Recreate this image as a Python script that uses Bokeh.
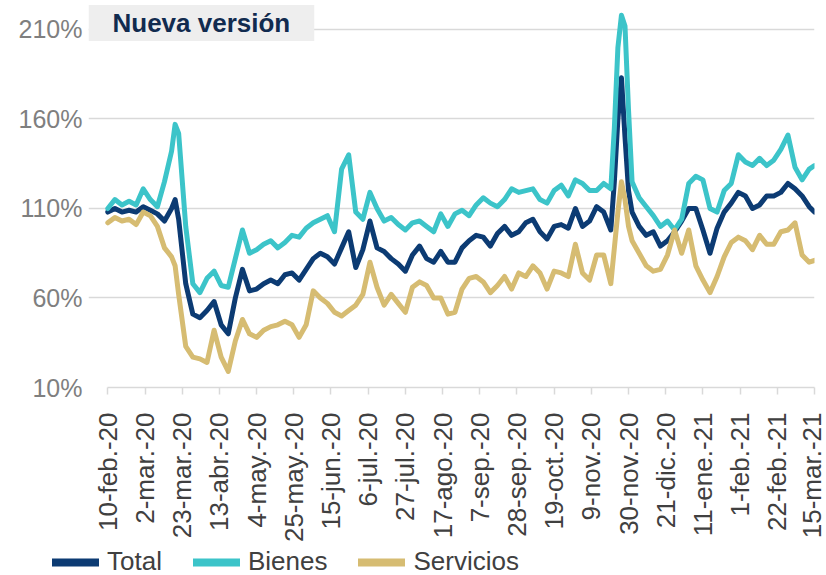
import math
from bokeh.plotting import figure
from bokeh.layouts import column
from bokeh.models import FixedTicker, Range1d, Legend, LegendItem, Label
from bokeh.embed import file_html
from bokeh.resources import INLINE

# days since 10-feb-2020
days = [0, 4, 8, 12, 16, 20, 24, 28, 32, 36, 38, 40, 44, 48, 52, 56, 60, 64, 68, 72,
        76, 80, 84, 88, 92, 96, 100, 104, 108, 112, 116, 120, 124, 128, 132, 136, 140,
        144, 148, 152, 156, 160, 164, 168, 172, 176, 180, 184, 188, 192, 196, 200, 204,
        208, 212, 216, 220, 224, 228, 232, 236, 240, 244, 248, 252, 256, 260, 264, 268,
        272, 276, 280, 284, 286, 288, 290, 292, 294, 296, 300, 304, 308, 312, 316, 320,
        324, 328, 332, 336, 340, 344, 348, 352, 356, 360, 364, 368, 372, 376, 380, 384,
        388, 392, 396, 399]

total = [108, 110, 108, 109, 108, 111, 109, 107, 103, 110, 115, 104, 68, 51, 49, 53, 58, 45, 40, 60,
         76, 64, 65, 68, 70, 68, 73, 74, 70, 76, 82, 85, 83, 79, 88, 97, 77,
         87, 103, 88, 86, 82, 79, 75, 84, 89, 82, 80, 86, 80, 80, 88, 92,
         95, 94, 89, 96, 100, 95, 97, 102, 104, 97, 93, 100, 101, 99, 110, 100,
         103, 111, 108, 98, 125, 160, 183, 150, 120, 108, 100, 95, 97, 89, 92, 97,
         103, 110, 110, 98, 85, 99, 108, 113, 119, 117, 110, 112, 117, 117, 119, 124,
         121, 117, 111, 108]

bienes = [110, 115, 112, 114, 112, 121, 115, 111, 125, 142, 157, 152, 100, 68, 63, 71, 75, 67, 66, 82,
          98, 85, 87, 90, 92, 88, 91, 95, 94, 99, 102, 104, 106, 97, 132, 140, 108,
          104, 119, 110, 103, 105, 101, 98, 102, 103, 100, 97, 107, 100, 107, 109, 106,
          112, 116, 113, 111, 115, 121, 119, 120, 121, 115, 113, 120, 123, 117, 126, 124,
          120, 120, 124, 121, 155, 200, 218, 212, 165, 125, 116, 111, 106, 100, 103, 98,
          104, 124, 128, 126, 110, 108, 120, 124, 140, 136, 134, 138, 134, 137, 143, 151,
          133, 126, 132, 134]

servicios = [102, 105, 103, 104, 101, 108, 106, 100, 88, 83, 78, 62, 33, 27, 26, 24, 42, 27, 19, 36,
             48, 40, 38, 42, 44, 45, 47, 45, 38, 45, 64, 60, 57, 52, 50, 53, 56,
             62, 80, 66, 56, 62, 57, 52, 66, 69, 67, 60, 60, 51, 52, 65, 71,
             72, 69, 63, 67, 72, 65, 74, 72, 78, 74, 65, 75, 74, 72, 90, 74,
             70, 84, 84, 68, 88, 108, 125, 115, 100, 92, 85, 78, 75, 76, 84, 98,
             85, 98, 78, 70, 63, 72, 83, 91, 94, 92, 87, 95, 90, 90, 97, 98,
             102, 84, 80, 81]

tick_days = [0, 21, 42, 63, 84, 105, 126, 147, 168, 189, 210, 231, 252, 273, 294,
             315, 336, 357, 378, 399]
tick_labels = ["10-feb.-20", "2-mar.-20", "23-mar.-20", "13-abr.-20", "4-may.-20",
               "25-may.-20", "15-jun.-20", "6-jul.-20", "27-jul.-20", "17-ago.-20",
               "7-sep.-20", "28-sep.-20", "19-oct.-20", "9-nov.-20", "30-nov.-20",
               "21-dic.-20", "11-ene.-21", "1-feb.-21", "22-feb.-21", "15-mar.-21"]
y_ticks = [10, 60, 110, 160, 210]
y_labels = ["10%", "60%", "110%", "160%", "210%"]

series_names = ["Total", "Bienes", "Servicios"]
series_colors = ["#0C3B73", "#3CC4C9", "#D6BC72"]

FONT = "Liberation Sans"
GRID = "#D9D9D9"
X0 = -10.9  # frame starts a little left of the first date, so the title box fits

p = figure(width=826, height=545, title=None, output_backend="svg", toolbar_location=None,
           x_range=Range1d(X0, tick_days[-1]), y_range=Range1d(10, 226.2),
           min_border_left=88, min_border_right=12, min_border_top=0, min_border_bottom=155)
p.outline_line_color = None
p.background_fill_color = "white"
p.border_fill_color = "white"

for vals, c in zip([total, bienes, servicios], series_colors):
    p.line(days, vals, line_color=c, line_width=5, line_join="round", line_cap="round")

# x axis
xa = p.xaxis[0]
xa.ticker = FixedTicker(ticks=tick_days)
xa.bounds = (tick_days[0], tick_days[-1])
xa.major_label_overrides = {d: l for d, l in zip(tick_days, tick_labels)}
xa.major_label_orientation = math.pi / 2
xa.major_label_text_font = FONT
xa.major_label_text_font_size = "26px"
xa.major_label_text_color = "#404040"
xa.major_label_standoff = 18
xa.axis_line_color = GRID
xa.axis_line_width = 1.5
xa.major_tick_line_color = GRID
xa.major_tick_line_width = 1.5
xa.major_tick_in = 0
xa.major_tick_out = 7
xa.minor_tick_line_color = None

# y axis
ya = p.yaxis[0]
ya.ticker = FixedTicker(ticks=y_ticks)
ya.major_label_overrides = {t: l for t, l in zip(y_ticks, y_labels)}
ya.major_label_text_font = FONT
ya.major_label_text_font_size = "25px"
ya.major_label_text_color = "#7F7F7F"
ya.major_label_standoff = 6
ya.axis_line_color = None
ya.major_tick_line_color = None
ya.major_tick_in = 0
ya.major_tick_out = 0
ya.minor_tick_line_color = None
ya.minor_tick_in = 0
ya.minor_tick_out = 0

p.xgrid.visible = False
p.ygrid.ticker = FixedTicker(ticks=y_ticks[1:])
p.ygrid.bounds = (tick_days[0], tick_days[-1])
p.ygrid.grid_line_color = GRID
p.ygrid.grid_line_width = 1.5

title = Label(x=X0, y=213.7, text="Nueva versión", text_font=FONT, text_font_size="26px",
              text_font_style="bold", text_color="#112B4F", text_baseline="middle",
              text_align="left", background_fill_color="#EEEEEE", padding=(24, 3))
p.add_layout(title)

# legend figure (legend-only renderers sit outside the visible range)
lf = figure(width=826, height=30, title=None, output_backend="svg", toolbar_location=None,
            x_range=Range1d(0, 1), y_range=Range1d(0, 1), min_border=0,
            x_axis_location=None, y_axis_location=None)
lf.frame_align = False
lf.grid.visible = False
lf.outline_line_color = None
lf.border_fill_color = "white"
leg_renderers = [lf.line([5, 6], [5, 6], line_color=c, line_width=8, line_cap="round")
                 for c in series_colors]
legend = Legend(items=[LegendItem(label=n, renderers=[r]) for n, r in zip(series_names, leg_renderers)],
                orientation="horizontal", location=(52, -2), glyph_width=47, glyph_height=28,
                label_standoff=8, spacing=31, padding=0, margin=0,
                label_text_font=FONT, label_text_font_size="26px", label_text_color="#404040",
                border_line_color=None, background_fill_alpha=0)
lf.add_layout(legend)

layout = column(p, lf, spacing=0)
open("out.html", "w").write(file_html(layout, INLINE))
